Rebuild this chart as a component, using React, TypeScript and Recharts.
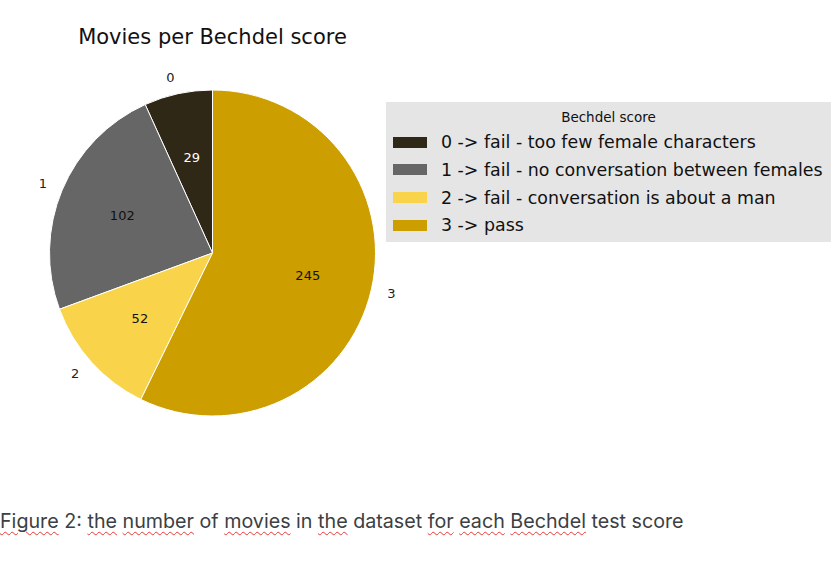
import React from 'react';
import { PieChart, Pie, Cell, Legend } from 'recharts';

const categories = ['0', '1', '2', '3'];
const counts = [29, 102, 52, 245];
const legendLabels = [
  '0 -> fail - too few female characters',
  '1 -> fail - no conversation between females',
  '2 -> fail - conversation is about a man',
  '3 -> pass',
];
const colors = ['#2f2816', '#666666', '#f9d44b', '#cc9e00'];
const innerTextColors = ['#ffffff', '#111111', '#111111', '#111111'];

const data = categories.map((c, i) => ({ name: c, value: counts[i], label: legendLabels[i] }));

const RADIAN = Math.PI / 180;
const FONT = 'DejaVu Sans, sans-serif';

const renderLabel = (props: any) => {
  const { cx, cy, midAngle, outerRadius, value, name, index } = props;
  const cos = Math.cos(-midAngle * RADIAN);
  const sin = Math.sin(-midAngle * RADIAN);
  const rIn = outerRadius * 0.6;
  const rOut = outerRadius * 1.1;
  const ix = cx + rIn * cos;
  const iy = cy + rIn * sin;
  const ox = cx + rOut * cos;
  const oy = cy + rOut * sin;
  return (
    <g>
      <text x={ix} y={iy} textAnchor="middle" dominantBaseline="central" fill={innerTextColors[index]} fontSize={13} fontFamily={FONT}>
        {value}
      </text>
      <text x={ox} y={oy} textAnchor={cos >= 0 ? 'start' : 'end'} dominantBaseline="central" fill="#222" fontSize={13} fontFamily={FONT}>
        {name}
      </text>
    </g>
  );
};

const LegendContent = () => (
  <div
    style={{
      position: 'absolute',
      left: 386,
      top: 102,
      width: 445,
      height: 140,
      background: '#e5e5e5',
      fontFamily: FONT,
      color: '#111',
      boxSizing: 'border-box',
    }}
  >
    <div style={{ position: 'absolute', left: 0, width: 445, top: 7, textAlign: 'center', fontSize: 13.5 }}>Bechdel score</div>
    {legendLabels.map((l, i) => (
      <div key={l} style={{ position: 'absolute', left: 7, top: 27 + i * 27.8, height: 26, display: 'flex', alignItems: 'center' }}>
        <div style={{ width: 34, height: 11, background: colors[i], marginRight: 14 }} />
        <span style={{ fontSize: 17.4, whiteSpace: 'nowrap' }}>{l}</span>
      </div>
    ))}
  </div>
);

const wavy: React.CSSProperties = {
  textDecorationLine: 'underline',
  textDecorationStyle: 'wavy',
  textDecorationColor: '#e53935',
  textUnderlineOffset: 3,
  textDecorationThickness: 1,
};

const captionWords: [string, boolean][] = [
  ['Figure', true], [' 2: ', false], ['the', true], [' ', false], ['number', true], [' of ', false],
  ['movies', true], [' in ', false], ['the', true], [' dataset ', false], ['for', true], [' ', false],
  ['each', true], [' ', false], ['Bechdel', true], [' test score', false],
];

export default function App() {
  return (
    <div style={{ position: 'absolute', left: 0, top: 0, width: 838, height: 585, background: '#fff', overflow: 'hidden' }}>
      <div
        style={{
          position: 'absolute',
          left: 0,
          width: 425,
          top: 25,
          textAlign: 'center',
          fontFamily: FONT,
          fontSize: 21,
          color: '#111',
        }}
      >
        Movies per Bechdel score
      </div>
      <div style={{ position: 'absolute', left: 0, top: 0 }}>
        <PieChart width={838} height={470} margin={{ top: 0, right: 0, bottom: 0, left: 0 }}>
          <Pie
            data={data}
            dataKey="value"
            nameKey="name"
            cx={212.5}
            cy={253}
            outerRadius={163}
            startAngle={90}
            endAngle={450}
            stroke="#ffffff"
            strokeWidth={1}
            label={renderLabel}
            labelLine={false}
            isAnimationActive={false}
          >
            {data.map((d, i) => (
              <Cell key={d.name} fill={colors[i]} />
            ))}
          </Pie>
          <Legend content={<LegendContent />} wrapperStyle={{ position: 'absolute', left: 0, top: 0, width: 0, height: 0 }} />
        </PieChart>
      </div>
      <div
        style={{
          position: 'absolute',
          left: 0,
          top: 509,
          fontFamily: 'Inter, sans-serif',
          fontSize: 19.7,
          color: '#3c4043',
          whiteSpace: 'nowrap',
        }}
      >
        {captionWords.map(([w, u], i) => (
          <span key={i} style={u ? wavy : undefined}>{w}</span>
        ))}
      </div>
    </div>
  );
}
